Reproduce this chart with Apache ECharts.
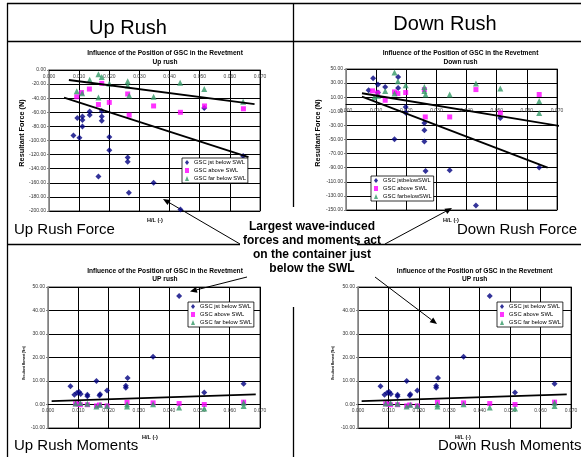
<!DOCTYPE html>
<html>
<head>
<meta charset="utf-8">
<script src="https://cdn.jsdelivr.net/npm/echarts@6/dist/echarts.min.js"></script>
<style>
  html, body { margin: 0; padding: 0; background: #fff; }
  #chart { width: 581px; height: 457px; }
</style>
</head>
<body>
<div id="chart"></div>
<script>
// H/L (-) against resultant force (N) / moment (Nm)
const upForceJst = [[0.0081, -93], [0.0101, -96], [0.0094, -68], [0.0111, -66], [0.0111, -71], [0.0111, -80],
  [0.0135, -59], [0.0135, -64], [0.0175, -58], [0.0175, -66], [0.0175, -72], [0.0200, -95], [0.0200, -114],
  [0.0261, -124], [0.0261, -130], [0.0164, -151], [0.0265, -174], [0.0347, -160], [0.0436, -198],
  [0.0515, -54], [0.0644, -122]]
const upForceAbove = [[0.0092, -38], [0.0108, -32], [0.0134, -27], [0.0175, -19], [0.0164, -49], [0.0200, -46],
  [0.0261, -34], [0.0266, -64], [0.0347, -51], [0.0436, -60], [0.0516, -51], [0.0645, -55]]
const upForceFar = [[0.0092, -30], [0.0110, -33], [0.0135, -14], [0.0164, -6], [0.0175, -10], [0.0164, -39],
  [0.0200, -19], [0.0261, -16], [0.0261, -22], [0.0266, -36], [0.0347, -38], [0.0435, -18], [0.0515, -27],
  [0.0644, -45]]
const upForceTrendA = [[0.0066, -14.2], [0.0682, -48.3]]
const upForceTrendB = [[0.0050, -39.3], [0.0662, -123.5]]

const downForceJst = [[0.0090, 37], [0.0075, 20], [0.0106, 28], [0.0106, 16.5], [0.0130, 24.5], [0.0173, 38.5],
  [0.0173, 23], [0.0198, -4], [0.0198, -12], [0.0161, -49.6], [0.0260, -26.5], [0.0260, -37], [0.0260, -53],
  [0.0264, -94.6], [0.0344, -93.6], [0.0431, -143.5], [0.0512, -19.4], [0.0641, -89.8]]
const downForceAbove = [[0.0088, 19], [0.0105, 16], [0.0130, 5.7], [0.0161, 17.5], [0.0172, 15.2], [0.0198, 16.6],
  [0.0260, 20.8], [0.0263, -18], [0.0344, -18], [0.0431, 20.8], [0.0512, -12.3], [0.0641, 13.8]]
const downForceFar = [[0.0094, 10.4], [0.0106, 12], [0.0130, 18.9], [0.0161, 45], [0.0161, 15.2], [0.0172, 32.6],
  [0.0198, 27], [0.0260, 24.5], [0.0260, 18.9], [0.0264, 13.8], [0.0344, 13.8], [0.0431, 29.4], [0.0512, 22.3],
  [0.0641, 4.7], [0.0641, -12.3]]
const downForceTrendA = [[0.0053, 15.6], [0.0713, -31.2]]
const downForceTrendB = [[0.0053, 10.9], [0.0669, -89.8]]

const momentJst = [[0.0074, 7.8], [0.0087, 4.2], [0.0096, 5.0], [0.0103, 5.3], [0.0108, 4.5], [0.0130, 3.5],
  [0.0130, 4.2], [0.0160, 10.0], [0.0170, 3.8], [0.0172, 4.4], [0.0195, 6.0], [0.0257, 8.0], [0.0257, 7.1],
  [0.0263, 11.3], [0.0347, 20.3], [0.0433, 46.2], [0.0516, 5.1], [0.0646, 8.8]]
const momentAbove = [[0.0091, 0.3], [0.0100, 0.2], [0.0107, -0.1], [0.0130, -0.1], [0.0160, -0.6], [0.0170, -0.2],
  [0.0195, -0.6], [0.0261, 0.9], [0.0347, 0.7], [0.0433, 0.4], [0.0516, 0.0], [0.0646, 1.0]]
const momentFar = [[0.0091, 0.4], [0.0107, 0.6], [0.0130, 0.3], [0.0160, -0.9], [0.0172, -0.1], [0.0195, -0.6],
  [0.0261, -0.9], [0.0261, 0.1], [0.0347, 0.1], [0.0433, -1.3], [0.0516, -1.7], [0.0646, -0.6], [0.0646, 0.7]]
const momentTrend = [[0.0012, 1.4], [0.0686, 4.3]]

// axis ranges [min, max, step]
const xRange = [0, 0.07, 0.01]
const upForceRange = [-200, 0, 20]
const downForceRange = [-150, 50, 20]
const momentRange = [-10, 50, 10]

const namesA = ['GSC jst below SWL', 'GSC above SWL', 'GSC far below SWL']
const namesB = ['GSC jstbelowSWL', 'GSC above SWL', 'GSC farbelowSWL']

const FONT = '"Liberation Sans", Arial, sans-serif'
const NAVY = '#000080'
const PINK = '#ff00ff'
const GREEN = '#339966'

const chart = echarts.init(document.getElementById('chart'))

const grids = [
  { left: 49, top: 70, width: 211, height: 141 },
  { left: 346, top: 69, width: 211, height: 141 },
  { left: 48, top: 287, width: 212, height: 141 },
  { left: 358, top: 287, width: 213, height: 141 }
].map(g => Object.assign(g, { show: true, backgroundColor: '#fff', borderColor: '#808080', borderWidth: 1.5 }))
const yRanges = [upForceRange, downForceRange, momentRange, momentRange]

// the x axis sits on y = 0, labels hang below it inside the plot
const xAxes = grids.map((g, i) => {
  const r = yRanges[i]
  const zeroFromTop = r[1] / (r[1] - r[0]) * g.height
  return {
    type: 'value', gridIndex: i, min: xRange[0], max: xRange[1], interval: xRange[2],
    position: 'top', offset: -zeroFromTop,
    axisLine: { onZero: false, lineStyle: { color: '#000', width: 1 } },
    axisTick: { show: false },
    axisLabel: { inside: true, fontSize: 5, color: '#444', margin: 4, fontFamily: FONT, formatter: v => v.toFixed(3) },
    splitLine: { show: true, lineStyle: { color: '#000', width: 1 } }
  }
})

const yAxes = yRanges.map((r, i) => ({
  type: 'value', gridIndex: i, min: r[0], max: r[1], interval: r[2],
  axisLine: { show: true, onZero: false, lineStyle: { color: '#808080' } },
  axisTick: { show: true, length: 2, lineStyle: { color: '#808080' } },
  axisLabel: { fontSize: 5, color: '#333', margin: 3, fontFamily: FONT, formatter: v => v.toFixed(2) },
  splitLine: { show: true, lineStyle: { color: '#000', width: 1 } }
}))

function scatter(name, data, idx, kind) {
  const s = {
    jst: { symbol: 'diamond', size: 6, color: NAVY },
    above: { symbol: 'rect', size: 5, color: PINK },
    far: { symbol: 'triangle', size: 6, color: GREEN }
  }[kind]
  return {
    type: 'scatter', name, data, xAxisIndex: idx, yAxisIndex: idx,
    symbol: s.symbol, symbolSize: s.size, itemStyle: { color: s.color }, silent: true
  }
}
function trend(data, idx) {
  return {
    type: 'line', data, xAxisIndex: idx, yAxisIndex: idx, symbol: 'none', clip: false,
    lineStyle: { color: '#000', width: 1.8 }, silent: true
  }
}

const series = [
  scatter(namesA[0], upForceJst, 0, 'jst'),
  scatter(namesA[1], upForceAbove, 0, 'above'),
  scatter(namesA[2], upForceFar, 0, 'far'),
  trend(upForceTrendA, 0),
  trend(upForceTrendB, 0),
  scatter(namesB[0], downForceJst, 1, 'jst'),
  scatter(namesB[1], downForceAbove, 1, 'above'),
  scatter(namesB[2], downForceFar, 1, 'far'),
  trend(downForceTrendA, 1),
  trend(downForceTrendB, 1)
]
for (const i of [2, 3]) {
  series.push(
    scatter(namesA[0], momentJst, i, 'jst'),
    scatter(namesA[1], momentAbove, i, 'above'),
    scatter(namesA[2], momentFar, i, 'far'),
    trend(momentTrend, i)
  )
}

function legendAt(left, top, names) {
  return {
    left, top, orient: 'vertical', data: names, selectedMode: false,
    padding: [1, 2, 1, 3], itemGap: 1, itemWidth: 4, itemHeight: 5,
    borderColor: '#000', borderWidth: 0.8, backgroundColor: '#fff',
    textStyle: { fontSize: 5.8, lineHeight: 7, color: '#000', fontFamily: FONT }
  }
}

function text(x, y, str, font, opts) {
  return {
    type: 'text', x, y, silent: true,
    style: Object.assign({ text: str, font: font, fill: '#000', textAlign: 'center', textVerticalAlign: 'middle' }, opts || {})
  }
}
function rotText(x, y, str, font) {
  const t = text(x, y, str, font)
  t.rotation = Math.PI / 2
  return t
}
function line(x1, y1, x2, y2) {
  return { type: 'line', silent: true, shape: { x1, y1, x2, y2 }, style: { stroke: '#000', lineWidth: 1.3 } }
}
function arrow(x1, y1, x2, y2) {
  const a = Math.atan2(y2 - y1, x2 - x1), L = 7, W = 3
  const bx = x2 - L * Math.cos(a), by = y2 - L * Math.sin(a)
  return [
    { type: 'line', silent: true, shape: { x1, y1, x2: bx, y2: by }, style: { stroke: '#000', lineWidth: 1 } },
    { type: 'polygon', silent: true, z: 100,
      shape: { points: [[x2, y2], [bx + W * Math.sin(a), by - W * Math.cos(a)], [bx - W * Math.sin(a), by + W * Math.cos(a)]] },
      style: { fill: '#000' } }
  ]
}

const big = '20px ' + FONT
const mid = '15px ' + FONT
const ttl = 'bold 6.6px ' + FONT
const axn = 'bold 5.5px ' + FONT

const graphic = [
  line(7, 3.5, 581, 3.5),
  line(7.5, 3, 7.5, 457),
  line(7, 41.5, 581, 41.5),
  line(293.5, 3, 293.5, 207),
  line(293.5, 307, 293.5, 457),
  line(7, 244.5, 240, 244.5),
  line(357, 244.5, 581, 244.5),
  ...arrow(240, 244, 163, 199),
  ...arrow(385, 244, 452, 208),
  ...arrow(247, 277, 190, 291.5),
  ...arrow(375, 277, 437, 324),
  text(128, 28, 'Up Rush', big),
  text(445, 24, 'Down Rush', big),
  text(14, 230, 'Up Rush Force', mid, { textAlign: 'left' }),
  text(457, 230, 'Down Rush Force', mid, { textAlign: 'left' }),
  text(14, 446, 'Up Rush Moments', mid, { textAlign: 'left' }),
  text(438, 446, 'Down Rush Moments', mid, { textAlign: 'left' }),
  text(312, 248, 'Largest wave-induced\nforces and moments act\non the container just\nbelow the SWL',
    'bold 12px ' + FONT, { lineHeight: 14 }),
  text(165, 53.3, 'Influence of the Position of GSC in the Revetment', ttl),
  text(165, 61.7, 'Up rush', ttl),
  text(460.5, 53.3, 'Influence of the Position of GSC in the Revetment', ttl),
  text(460.5, 61.7, 'Down rush', ttl),
  text(165, 271.3, 'Influence of the Position of GSC in the Revetment', ttl),
  text(165, 279.3, 'UP rush', ttl),
  text(474.7, 271.3, 'Influence of the Position of GSC in the Revetment', ttl),
  text(474.7, 279.3, 'UP rush', ttl),
  text(155, 220, 'H/L (-)', axn),
  text(451, 220, 'H/L (-)', axn),
  text(150, 437, 'H/L (-)', axn),
  text(463, 437, 'H/L (-)', axn),
  rotText(21.7, 133, 'Resultant Force (N)', 'bold 7.3px ' + FONT),
  rotText(318.3, 133, 'Resultant Force (N)', 'bold 7.3px ' + FONT),
  rotText(24.3, 363, 'Resultant Moment (Nm)', 'bold 3px ' + FONT),
  rotText(333.3, 363, 'Resultant Moment (Nm)', 'bold 3px ' + FONT)
]

chart.setOption({
  animation: false,
  backgroundColor: '#fff',
  grid: grids,
  xAxis: xAxes,
  yAxis: yAxes,
  legend: [
    legendAt(182, 158, namesA),
    legendAt(371, 176, namesB),
    legendAt(188, 302, namesA),
    legendAt(497, 302, namesA)
  ],
  series: series,
  graphic: graphic
})
</script>
</body>
</html>
